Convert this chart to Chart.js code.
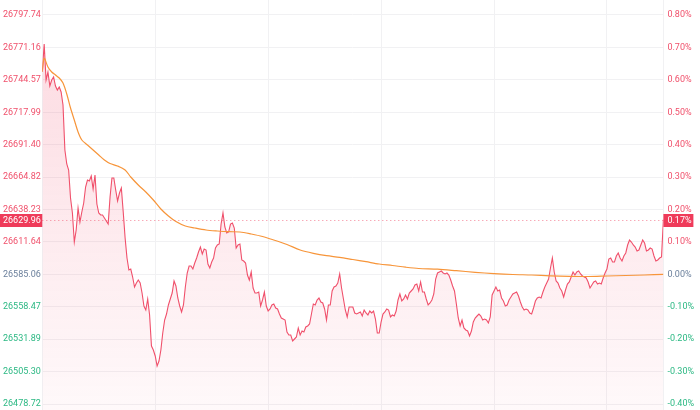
<!DOCTYPE html>
<html>
<head>
<meta charset="utf-8">
<script src="https://cdn.jsdelivr.net/npm/chart.js@4.4.1/dist/chart.umd.min.js"></script>
<style>
  html, body { margin: 0; padding: 0; background: #fff; }
  #wrap { width: 700px; height: 410px; }
</style>
</head>
<body>
<div id="wrap"><canvas id="chart" width="700" height="410"></canvas></div>
<script>
// previous close and last trade
const basePrice = 26585.06;
const lastPrice = 26629.96;
const priceMin = 26473.84;
const priceMax = 26810.04;

const priceTicks = [26478.72, 26505.30, 26531.89, 26558.47, 26585.06, 26611.64, 26638.23,
    26664.82, 26691.40, 26717.99, 26744.57, 26771.16, 26797.74];
const pctTicks = [-0.4, -0.3, -0.2, -0.1, 0, 0.1, 0.2, 0.3, 0.4, 0.5, 0.6, 0.7, 0.8];
// minutes since the open where the vertical grid lines sit
const hourMarks = [0, 60, 120, 180, 240, 300, 330];

// one price per trading minute
const prices = [
    26751.25, 26773.96, 26744.44, 26751.00, 26739.52, 26744.44, 26746.90, 26739.52, 26736.24, 26738.70,
    26734.60, 26723.94, 26687.04, 26675.56, 26670.64, 26647.68, 26635.38, 26611.60, 26621.44, 26639.48,
    26628.00, 26636.20, 26643.58, 26656.70, 26662.44, 26661.62, 26665.72, 26655.06, 26666.54, 26642.76,
    26635.38, 26633.74, 26633.74, 26631.28, 26628.82, 26626.36, 26648.50, 26664.08, 26664.08, 26654.24,
    26645.22, 26651.78, 26655.88, 26636.20, 26614.88, 26598.48, 26588.64, 26589.46, 26582.90, 26574.70,
    26577.98, 26580.44, 26577.98, 26569.78, 26559.12, 26555.84, 26564.86, 26551.74, 26526.32, 26523.04,
    26518.12, 26509.92, 26514.02, 26523.04, 26536.98, 26547.64, 26552.56, 26559.94, 26564.86, 26569.78,
    26579.62, 26575.52, 26565.68, 26559.12, 26554.20, 26559.94, 26574.70, 26586.18, 26591.92, 26591.92,
    26589.46, 26594.38, 26598.48, 26603.40, 26607.50, 26601.76, 26605.86, 26605.04, 26593.56, 26590.28,
    26595.20, 26598.48, 26606.68, 26609.14, 26609.96, 26626.36, 26635.38, 26623.90, 26618.98, 26619.80,
    26626.36, 26627.18, 26623.08, 26606.68, 26609.14, 26609.96, 26596.84, 26596.02, 26594.38, 26584.54,
    26580.44, 26587.00, 26573.88, 26569.78, 26569.78, 26570.60, 26559.12, 26564.04, 26570.60, 26559.12,
    26555.02, 26556.66, 26559.94, 26560.76, 26557.48, 26556.66, 26552.56, 26549.28, 26548.46, 26547.64,
    26537.80, 26535.34, 26535.34, 26530.42, 26532.06, 26533.70, 26541.08, 26535.34, 26538.62, 26537.80,
    26541.90, 26542.72, 26544.36, 26552.56, 26560.76, 26559.94, 26564.04, 26565.68, 26562.40, 26561.58,
    26556.66, 26547.64, 26559.94, 26559.94, 26571.42, 26574.70, 26575.52, 26577.98, 26585.36, 26573.88,
    26564.86, 26555.84, 26550.10, 26558.30, 26558.30, 26558.30, 26553.38, 26552.56, 26553.38, 26554.20,
    26550.92, 26555.84, 26553.38, 26551.74, 26555.02, 26553.38, 26555.02, 26548.46, 26536.98, 26536.98,
    26546.00, 26552.56, 26554.20, 26556.66, 26555.84, 26550.10, 26551.74, 26550.92, 26555.02, 26564.04,
    26568.96, 26563.22, 26564.86, 26568.14, 26564.86, 26569.78, 26571.42, 26573.06, 26576.34, 26577.16,
    26571.42, 26578.80, 26570.60, 26570.60, 26564.86, 26559.94, 26561.58, 26564.04, 26568.96, 26581.26,
    26586.18, 26587.00, 26587.82, 26586.18, 26585.36, 26586.18, 26584.54, 26580.44, 26575.52, 26571.42,
    26560.76, 26549.28, 26542.72, 26547.64, 26541.08, 26539.44, 26538.62, 26534.52, 26538.62, 26546.00,
    26549.28, 26550.92, 26552.56, 26550.92, 26547.64, 26548.46, 26547.64, 26545.18, 26550.10, 26568.14,
    26571.42, 26574.70, 26571.42, 26572.24, 26565.68, 26563.22, 26559.12, 26559.94, 26564.04, 26566.50,
    26568.96, 26569.78, 26570.60, 26567.32, 26562.40, 26558.30, 26555.84, 26556.66, 26555.84, 26553.38,
    26552.56, 26557.48, 26563.22, 26565.68, 26566.50, 26565.68, 26570.60, 26574.70, 26577.98, 26581.26,
    26590.28, 26598.48, 26587.00, 26579.62, 26577.98, 26573.88, 26571.42, 26566.50, 26572.24, 26577.16,
    26578.80, 26582.90, 26587.00, 26584.54, 26587.00, 26587.82, 26585.36, 26583.72, 26582.90, 26582.08,
    26578.80, 26573.88, 26576.34, 26578.80, 26579.62, 26577.16, 26577.98, 26577.16, 26582.08, 26586.18,
    26589.46, 26597.66, 26598.48, 26595.20, 26595.20, 26600.12, 26602.58, 26598.48, 26596.02, 26600.12,
    26602.58, 26609.14, 26613.24, 26611.60, 26609.14, 26607.50, 26604.22, 26605.04, 26609.14, 26613.24,
    26610.78, 26604.22, 26605.04, 26606.68, 26605.86, 26600.12, 26596.02, 26596.84, 26598.48, 26599.30,
    26629.96
];

// running average price, read at selected minutes
const avgMinutes = [0, 1, 3, 5, 7, 9, 11, 13, 15, 17, 19, 21, 24, 27, 30, 33, 36, 40, 44, 47, 51, 55,
    59, 63, 67, 71, 76, 81, 87, 93, 99, 105, 111, 117, 123, 130, 137, 144, 151, 158, 165, 172, 179,
    186, 193, 200, 210, 220, 230, 240, 250, 260, 270, 280, 290, 300, 310, 320, 330];
const avgPrices = [26751.25, 26762.23, 26755.10, 26751.00, 26748.54, 26746.08, 26741.98, 26732.96,
    26721.48, 26711.64, 26701.80, 26695.24, 26691.14, 26687.04, 26682.94, 26678.84, 26675.97, 26673.92,
    26670.64, 26664.90, 26658.34, 26652.60, 26646.04, 26638.66, 26632.92, 26628.41, 26624.72, 26623.08,
    26621.44, 26620.62, 26620.05, 26619.80, 26618.16, 26616.11, 26613.24, 26609.55, 26605.04, 26602.33,
    26600.37, 26599.05, 26597.25, 26595.45, 26593.56, 26592.33, 26590.94, 26589.87, 26589.30, 26588.07,
    26586.75, 26585.69, 26584.95, 26584.54, 26583.88, 26583.47, 26583.31, 26583.72, 26584.13, 26584.54,
    26585.11];

const UP = "#f0506b";
const DOWN = "#2bb883";
const FLAT = "#6a7f9b";
const TAG = "#ef3b5a";
const FONT = { family: "Roboto", size: 9 };

function toPct(p) {
    return (p - basePrice) / basePrice * 100;
}

function tickColor(v) {
    if (Math.abs(v) < 1e-6) return FLAT;
    return v > 0 ? UP : DOWN;
}

const lastTag = {
    id: "lastTag",
    afterDraw(chart) {
        const { ctx, chartArea, scales } = chart;
        const y = Math.round(scales.y.getPixelForValue(lastPrice)) + 0.5;
        ctx.save();
        ctx.strokeStyle = "rgba(240,80,107,0.7)";
        ctx.lineWidth = 1;
        ctx.setLineDash([1, 3]);
        ctx.beginPath();
        ctx.moveTo(chartArea.left, y);
        ctx.lineTo(chartArea.right, y);
        ctx.stroke();
        ctx.setLineDash([]);

        ctx.fillStyle = TAG;
        ctx.fillRect(0, y - 6.5, chartArea.left, 13);
        ctx.fillRect(chartArea.right, y - 6.5, 30, 13);
        ctx.fillStyle = "#fff";
        ctx.font = FONT.size + "px " + FONT.family;
        ctx.textBaseline = "middle";
        ctx.textAlign = "left";
        ctx.fillText(lastPrice.toFixed(2), 3, y);
        ctx.fillText(toPct(lastPrice).toFixed(2) + "%", chartArea.right + 4, y);
        ctx.restore();
    }
};

const ctx = document.getElementById("chart").getContext("2d");

new Chart(ctx, {
    type: "line",
    data: {
        datasets: [
            {
                label: "Avg",
                data: avgMinutes.map((m, i) => ({ x: m, y: avgPrices[i] })),
                borderColor: "#f7953a",
                borderWidth: 1.2,
                pointRadius: 0,
                fill: false,
                tension: 0.3,
                order: 0
            },
            {
                label: "Price",
                data: prices.map((p, i) => ({ x: i, y: p })),
                borderColor: "#f0506b",
                borderWidth: 1.1,
                pointRadius: 0,
                tension: 0,
                fill: "start",
                order: 1,
                backgroundColor: (c) => {
                    const area = c.chart.chartArea;
                    if (!area) return "rgba(240,80,107,0.1)";
                    const g = c.chart.ctx.createLinearGradient(0, area.top, 0, area.bottom);
                    g.addColorStop(0, "rgba(240,60,95,0.2)");
                    g.addColorStop(1, "rgba(240,60,95,0.03)");
                    return g;
                }
            }
        ]
    },
    options: {
        responsive: false,
        animation: false,
        devicePixelRatio: 1,
        layout: { padding: { left: 3, right: 0, top: 0, bottom: 0 } },
        plugins: { legend: { display: false }, tooltip: { enabled: false } },
        scales: {
            x: {
                type: "linear",
                min: 0,
                max: 330,
                afterBuildTicks: (s) => { s.ticks = hourMarks.map(v => ({ value: v })); },
                afterFit: (s) => { s.height = 0; s.paddingLeft = 0; s.paddingRight = 0; },
                ticks: { display: false },
                border: { display: false },
                grid: { color: "#f1f1f3", drawTicks: false }
            },
            y: {
                position: "left",
                min: priceMin,
                max: priceMax,
                afterBuildTicks: (s) => { s.ticks = priceTicks.map(v => ({ value: v })); },
                afterFit: (s) => { s.width = 39.3; s.paddingTop = 0; s.paddingBottom = 0; },
                ticks: {
                    crossAlign: "far",
                    padding: 0,
                    font: FONT,
                    color: (c) => tickColor(c.tick.value - basePrice),
                    callback: (v) => v.toFixed(2)
                },
                border: { display: false },
                grid: { color: "#f1f1f3", drawTicks: false }
            },
            y1: {
                position: "right",
                min: toPct(priceMin),
                max: toPct(priceMax),
                afterBuildTicks: (s) => { s.ticks = pctTicks.map(v => ({ value: v })); },
                afterFit: (s) => { s.width = 36.6; s.paddingTop = 0; s.paddingBottom = 0; },
                ticks: {
                    padding: 4,
                    font: FONT,
                    color: (c) => tickColor(c.tick.value),
                    callback: (v) => v.toFixed(2) + "%"
                },
                border: { display: false },
                grid: { display: false, drawTicks: false }
            }
        }
    },
    plugins: [lastTag]
});
</script>
</body>
</html>
